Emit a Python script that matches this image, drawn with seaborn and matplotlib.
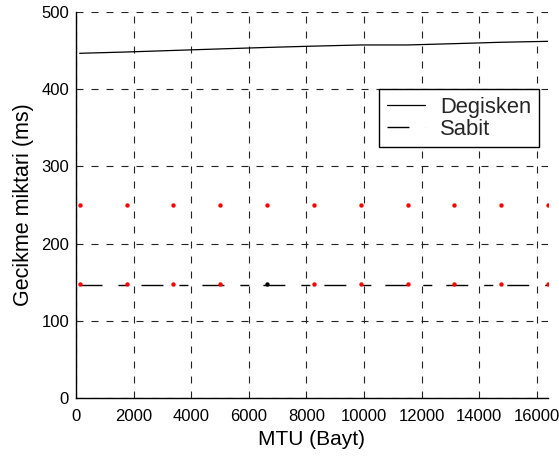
import matplotlib
matplotlib.use("Agg")
import matplotlib.pyplot as plt
import seaborn as sns
import pandas as pd

# ---- data ----
mtu = [128, 1754, 3379, 5005, 6630, 8256, 9882, 11507, 13133, 14758, 16384]
degisken = [446.5, 448.2, 450.2, 452.2, 454.1, 455.8, 457.3, 457.3, 459.0, 460.8, 462.0]
sabit = [146, 146, 146, 146, 146, 146, 146, 146, 146, 146, 146]
red_upper = [250, 250, 250, 250, 250, 250, 250, 250, 250, 250, 250]
red_lower_x = [128, 1754, 3379, 5005, 8256, 9882, 11507, 13133, 14758, 16384]
red_lower = [148, 148, 148, 148, 148, 148, 148, 148, 148, 148]
black_x = [6630]
black_y = [148]
xticks = [0, 2000, 4000, 6000, 8000, 10000, 12000, 14000, 16000]
yticks = [0, 100, 200, 300, 400, 500]
labels = ["Degisken", "Sabit"]

sns.set_theme(style="white")
plt.rcParams["font.family"] = ["Liberation Sans", "DejaVu Sans"]

fig = plt.figure(figsize=(5.59, 4.57), dpi=100)
ax = fig.add_axes([76 / 559, (457 - 398) / 457, (548 - 76) / 559, (398 - 12) / 457])

df_line = pd.DataFrame({"MTU": mtu, "Degisken": degisken, "Sabit": sabit})

sns.lineplot(data=df_line, x="MTU", y="Degisken", ax=ax, color="black",
             linewidth=0.9, label=labels[0], zorder=3)
sns.lineplot(data=df_line, x="MTU", y="Sabit", ax=ax, color="black",
             linewidth=1.0, label=labels[1], zorder=3,
             linestyle=(0, (15.8, 11.5, 6.5, 10.1)))

sns.scatterplot(x=mtu, y=red_upper, ax=ax, color="red", s=10, linewidth=0,
                zorder=4, legend=False)
sns.scatterplot(x=red_lower_x, y=red_lower, ax=ax, color="red", s=10,
                linewidth=0, zorder=4, legend=False)
sns.scatterplot(x=black_x, y=black_y, ax=ax, color="black", s=10,
                linewidth=0, zorder=4, legend=False)

ax.set_xlim(0, 16384)
ax.set_ylim(0, 500)
ax.set_xticks(xticks)
ax.set_yticks(yticks)
ax.set_xticklabels([str(v) for v in xticks])
ax.set_yticklabels([str(v) for v in yticks])

ax.grid(True, color="#222222", linewidth=0.8, linestyle=(0, (6.3, 7.2)), zorder=0)
ax.set_axisbelow(True)

for s in ["top", "right"]:
    ax.spines[s].set_visible(False)
for s in ["left", "bottom"]:
    ax.spines[s].set_color("black")
    ax.spines[s].set_linewidth(1.0)

ax.tick_params(axis="both", direction="in", length=4, width=0.8, color="black",
               labelsize=12, labelcolor="black")
ax.tick_params(axis="x", pad=8)
ax.tick_params(axis="y", pad=5)

ax.set_xlabel("MTU (Bayt)", fontsize=15, color="black", labelpad=4)
ax.set_ylabel("Gecikme miktari (ms)", fontsize=15.5, color="black", labelpad=5)

leg = ax.legend(loc="upper right", bbox_to_anchor=(0.981, 0.80), borderaxespad=0,
                fontsize=15.8, frameon=True, fancybox=False, edgecolor="black",
                framealpha=1, handlelength=1.7, handletextpad=0.7,
                labelspacing=0.02, borderpad=0.36)
leg.get_frame().set_linewidth(1.0)

fig.savefig("out.png", dpi=100)
